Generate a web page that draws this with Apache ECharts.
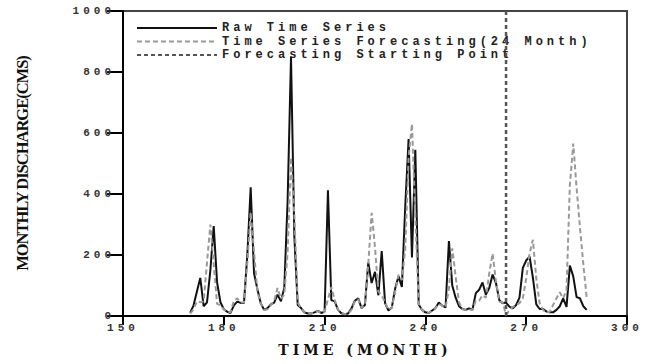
<!DOCTYPE html>
<html>
<head>
<meta charset="utf-8">
<script src="https://cdn.jsdelivr.net/npm/echarts@6/dist/echarts.min.js"></script>
<style>
  html, body { margin: 0; padding: 0; background: #fff; }
  #chart { width: 648px; height: 364px; }
  /* wide typewriter-style spacing for the monospace labels and the x title */
  #chart text[style*="Liberation Mono"], #chart text[font-family*="Liberation Mono"] { letter-spacing: 4px; }
  #chart text[style*="DejaVu Serif"], #chart text[font-family*="DejaVu Serif"] { letter-spacing: 4px; }
  /* tight, heavy vertical title */
  #chart text[style*="Liberation Serif"], #chart text[font-family*="Liberation Serif"] { letter-spacing: -1px; }
</style>
</head>
<body>
<div id="chart"></div>
<script>
// Monthly discharge, month 170 .. 288
const startMonth = 170;
const rawDischarge = [
  10, 35, 80, 125, 32, 45, 150, 295, 110, 45,
  22, 14, 10, 35, 47, 43, 43, 200, 422, 140,
  88, 42, 20, 26, 38, 44, 70, 48, 92, 380,
  850, 260, 36, 26, 12, 8, 8, 12, 17, 10,
  14, 412, 52, 48, 20, 9, 6, 8, 25, 50,
  58, 26, 36, 175, 108, 145, 68, 213, 42, 18,
  28, 90, 130, 95, 360, 580, 192, 545, 38, 20,
  12, 10, 18, 26, 44, 34, 28, 246, 100, 60,
  32, 23, 20, 25, 20, 75, 86, 110, 70, 92,
  136, 108, 52, 42, 44, 31, 25, 36, 60, 158,
  182, 195, 125, 38, 23, 23, 15, 12, 12, 20,
  32, 58, 30, 165, 130, 62, 58, 32, 20
];
const forecastDischarge = [
  8, 22, 48, 45, 48, 175, 300, 170, 40, 35,
  22, 14, 12, 50, 58, 44, 44, 175, 340, 210,
  80, 42, 20, 22, 36, 50, 92, 56, 70, 210,
  520, 330, 45, 25, 12, 8, 8, 12, 16, 10,
  14, 55, 95, 52, 20, 9, 6, 8, 20, 48,
  55, 26, 38, 170, 338, 225, 80, 68, 45, 20,
  28, 80, 135, 118, 220, 520, 630, 330, 40, 20,
  12, 10, 18, 26, 40, 34, 28, 90, 222, 130,
  45, 23, 20, 22, 20, 50, 50, 68, 60, 140,
  205, 113, 47, 45, 4, 18, 30, 36, 42, 58,
  123, 205, 250, 123, 42, 20, 12, 14, 36, 58,
  78, 58, 85, 430, 565, 420, 290, 170, 60
];
const forecastStartMonth = 264;
const startLineRange = [0, 1000];
const seriesNames = ['Raw Time Series', 'Time Series Forecasting(24 Month)', 'Forecasting Starting Point'];
const xTicks = { min: 150, max: 300, step: 30 };
const yTicks = { min: 0, max: 1000, step: 200 };

const toPairs = (values) => values.map((v, i) => [startMonth + i, v]);

const tickFont = {
  fontFamily: 'Liberation Mono', fontWeight: 'bold', fontSize: 11, color: '#333',
  formatter: (v) => String(v)
};

const chart = echarts.init(document.getElementById('chart'), null, { renderer: 'svg' });
chart.setOption({
  animation: false,
  backgroundColor: '#fff',
  grid: { left: 123, right: 21, top: 11, bottom: 48, show: true, borderColor: '#444', borderWidth: 2 },
  legend: {
    data: seriesNames,
    orient: 'vertical',
    left: 131,
    top: 17,
    itemWidth: 80,
    itemHeight: 12,
    itemGap: 1.5,
    itemStyle: { opacity: 0 },
    textStyle: { fontFamily: 'Liberation Mono', fontWeight: 'bold', fontSize: 12, color: '#222' }
  },
  xAxis: {
    type: 'value',
    min: xTicks.min, max: xTicks.max, interval: xTicks.step,
    axisLine: { lineStyle: { color: '#000', width: 2 } },
    axisTick: { length: 9, lineStyle: { color: '#000', width: 2 } },
    axisLabel: Object.assign({ margin: 6 }, tickFont),
    splitLine: { show: false },
    name: 'TIME (MONTH)',
    nameLocation: 'middle',
    nameGap: 27,
    nameTextStyle: { fontFamily: 'DejaVu Serif', fontWeight: 'bold', fontSize: 14, color: '#111', padding: [0, 20, 0, 0] }
  },
  yAxis: {
    type: 'value',
    min: yTicks.min, max: yTicks.max, interval: yTicks.step,
    axisLine: { show: true, lineStyle: { color: '#000', width: 2 } },
    axisTick: { show: true, length: 16, lineStyle: { color: '#000', width: 2 } },
    axisLabel: Object.assign({ margin: 8 }, tickFont),
    splitLine: { show: false },
    name: 'MONTHLY DISCHARGE(CMS)',
    nameLocation: 'middle',
    nameRotate: 90,
    nameGap: 92,
    nameTextStyle: { fontFamily: 'Liberation Serif', fontWeight: 'bold', fontSize: 16.5, color: '#111' }
  },
  series: [
    {
      name: seriesNames[0],
      type: 'line',
      data: toPairs(rawDischarge),
      symbol: 'none',
      z: 3,
      itemStyle: { color: '#111' },
      lineStyle: { color: '#111', width: 2 }
    },
    {
      name: seriesNames[1],
      type: 'line',
      data: toPairs(forecastDischarge),
      symbol: 'none',
      z: 4,
      itemStyle: { color: '#999' },
      lineStyle: { color: '#999', width: 2, type: [5, 3] }
    },
    {
      name: seriesNames[2],
      type: 'line',
      data: startLineRange.map(v => [forecastStartMonth, v]),
      symbol: 'none',
      z: 5,
      itemStyle: { color: '#555' },
      lineStyle: { color: '#555', width: 2.5, type: [4, 3] }
    }
  ]
});
</script>
</body>
</html>
